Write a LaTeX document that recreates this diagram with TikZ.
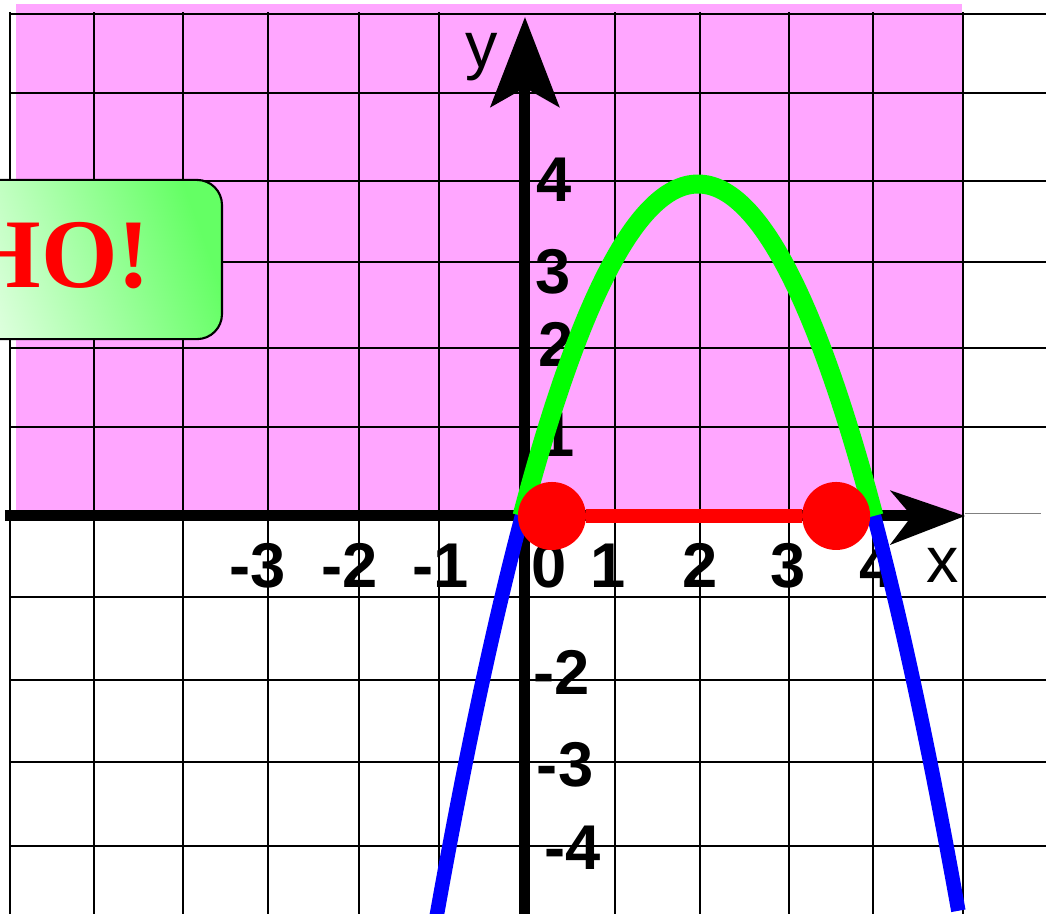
\documentclass[tikz,border=0pt]{standalone}
\usepackage{fontspec}
\setmainfont{Liberation Sans}
\newfontfamily\cyrserif{Liberation Serif}
\usetikzlibrary{calc}
\definecolor{bgpink}{RGB}{255,166,255}
\definecolor{boxgreen}{RGB}{100,255,100}
\definecolor{boxlight}{RGB}{242,255,242}
\definecolor{curveblue}{RGB}{0,0,255}
\definecolor{curvegreen}{RGB}{0,255,0}

\begin{document}
\begin{tikzpicture}[x=2.2cm, y=2.075cm,
  gridline/.style={black, line width=1.4pt},
  axisline/.style={black, line width=7.8pt},
  ticklbl/.style={font=\fontsize{45}{45}\selectfont\bfseries, inner sep=0pt},
  axislbl/.style={font=\fontsize{46}{46}\selectfont, inner sep=0pt},
  rootdot/.style={circle, fill=red, minimum size=1.7cm, inner sep=0pt},
  msgbox/.style={draw=black, line width=1.5pt, rounded corners=0.625cm,
    left color=boxlight, right color=boxgreen, shading angle=110}]
  \useasboundingbox (-5.932,-4.795) rectangle (5.955,6.217);
  \clip (-5.932,-4.795) rectangle (5.955,6.217);
  % Region y >= 0
  \fill[bgpink] (-5.75,0) rectangle (5.0,6.17);
  % Grid
  \foreach \u in {-5.82,-4.86,-3.85,-2.89,-1.85,-0.94,1.06,2.02,3.03,3.99,5.01}
    \draw[gridline] (\u,6.07) -- (\u,-4.8);
  \foreach \v in {6.05,5.10,4.04,3.06,2.02,1.07,-0.98,-1.98,-2.96,-3.98}
    \draw[gridline] (-5.82,\v) -- (5.96,\v);
  \draw[gray, line width=1.2pt] (5.03,0.03) -- (5.9,0.03);
  % Axes
  \coordinate (xstart) at (-5.875,0);
  \coordinate (xnotch) at (4.43,0);
  \coordinate (xtip) at (5.034,0);
  \coordinate (ystart) at (0.034,-4.8);
  \coordinate (ynotch) at (0.034,5.16);
  \coordinate (ytip) at (0.034,6.01);
  \draw[axisline] (xstart) -- (xnotch);
  \fill (xtip) -- (4.18,0.31) -- (xnotch) -- (4.18,-0.35) -- cycle;
  \draw[axisline] (ystart) -- (ynotch);
  \fill (ytip) -- (-0.364,4.92) -- (ynotch) -- (0.43,4.92) -- cycle;
  \node[axislbl] (xlbl) at (4.78,-0.60) {x};
  \node[axislbl] (ylbl) at (-0.455,5.53) {y};
  % Tick labels
  \foreach \u/\lbl [count=\i] in {-3.0/-3, -1.955/-2, -0.93/-1, 0.307/0,
      0.977/1, 2.02/2, 3.02/3, 4.03/4}
    \node[ticklbl] (xl\i) at (\u,-0.60) {\lbl};
  \foreach \u/\v/\lbl [count=\i] in {0.364/4.05/4, 0.35/2.94/3, 0.386/2.07/2,
      0.40/0.98/1, 0.455/-1.88/-2, 0.49/-3.0/-3, 0.57/-4.0/-4}
    \node[ticklbl] (yl\i) at (\u,\v) {\lbl};
  % Parabola y = -x^2 + 4x
  \draw[curveblue, line width=10.3pt]
    plot[domain=-1.15:4.96, samples=80, smooth] (\x,{\x*(4-\x)});
  \draw[curvegreen, line width=13.5pt]
    plot[domain=0:4, samples=60, smooth] (\x,{\x*(4-\x)});
  % Solution interval
  \node[rootdot] (dotL) at (0.34,0) {};
  \node[rootdot] (dotR) at (3.57,0) {};
  \draw[red, line width=10.6pt] (dotL) -- (dotR);
  % Message
  \node[msgbox, minimum width=7.55cm, minimum height=3.98cm] (box) at (-5.125,3.09) {};
  \node[red, font=\cyrserif\bfseries\fontsize{70}{70}\selectfont, inner sep=0pt,
    anchor=base east] (msg) at (-4.216,2.747) {НО!};
\end{tikzpicture}
\end{document}
